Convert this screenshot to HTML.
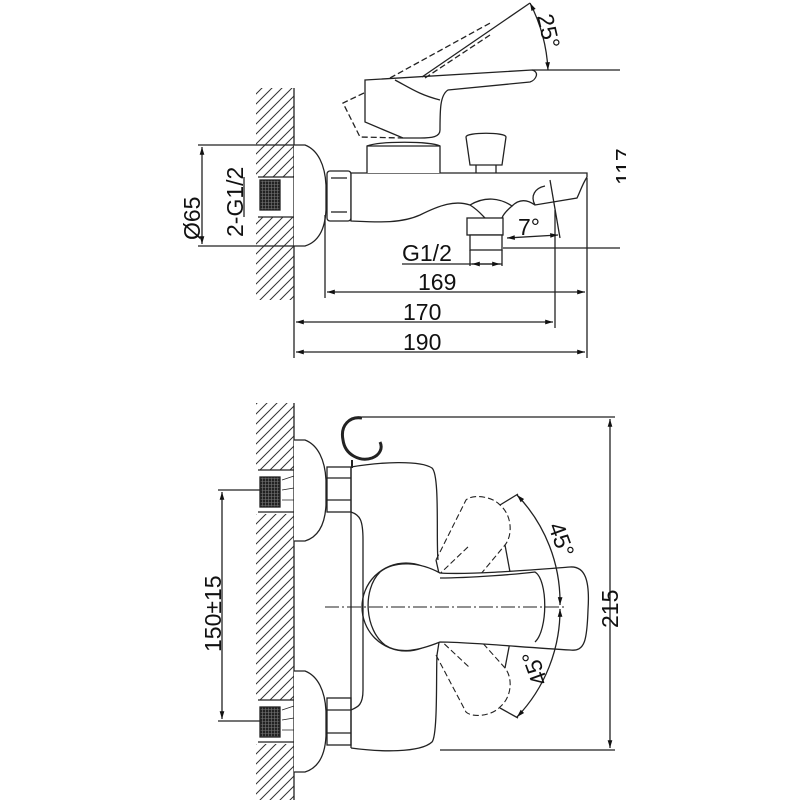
<!DOCTYPE html>
<html><head><meta charset="utf-8"><style>
html,body{margin:0;padding:0;background:#fff;}
svg{display:block}
text{font-family:"Liberation Sans",sans-serif;font-size:23px;fill:#111}
</style></head><body>
<svg width="800" height="800" viewBox="0 0 800 800" xmlns="http://www.w3.org/2000/svg">
<defs>
<pattern id="h" width="10" height="10" patternUnits="userSpaceOnUse">
<path d="M0 10 L10 0 M-2 2 L2 -2 M8 12 L12 8" stroke="#333" stroke-width="1"/>
</pattern>
<pattern id="k" width="3" height="3" patternUnits="userSpaceOnUse">
<rect width="3" height="3" fill="#222"/><path d="M0 1.5H3M1.5 0V3" stroke="#777" stroke-width="0.6"/>
</pattern>
<marker id="a" viewBox="0 0 10 10" refX="10" refY="5" markerWidth="8" markerHeight="6" orient="auto-start-reverse"><path d="M0 2 L10 5 L0 8z" fill="#111"/></marker>
<clipPath id="c"><rect x="0" y="0" width="626" height="800"/></clipPath>
</defs>
<g fill="none" stroke="#222" stroke-width="1.3">
<rect x="256" y="88" width="38" height="212" fill="url(#h)" stroke="none"/>
<rect x="256" y="177" width="38" height="40" fill="#fff" stroke="none"/>
<line x1="294" y1="88" x2="294" y2="300"/>
<line x1="258" y1="177" x2="294" y2="177"/><line x1="258" y1="217" x2="294" y2="217"/>
<rect x="260" y="180" width="20" height="30" fill="url(#k)" stroke="#222"/>
<path d="M294 145 H305 C318 150 325 165 326 185 V210 C325 230 318 242 305 246 H294" fill="#fff"/>
<rect x="327" y="171" width="24" height="50" rx="3" fill="#fff"/>
<line x1="331" y1="178" x2="347" y2="178"/><line x1="331" y1="212" x2="347" y2="212"/>
<path d="M351 173 H587 V177 C582 185 580 192 577 198 L535 205 C528 200 520 198 512 206 C500 198 485 196 470 205 C455 200 440 205 420 215 C400 224 375 222 351 221 Z" fill="#fff"/>
<path d="M470 205 C478 210 482 215 485 218 M512 206 C505 212 503 215 502 218"/>
<path d="M545 186 C535 188 530 196 535 205"/>
<rect x="467" y="218" width="36" height="17" fill="#fff"/>
<rect x="470" y="235" width="32" height="15" fill="#fff"/>
<line x1="470" y1="250" x2="470" y2="266"/><line x1="502" y1="250" x2="502" y2="266"/>
<path d="M367 173 V146 C380 141 430 141 440 146 V173" fill="#fff"/>
<line x1="367" y1="146" x2="440" y2="146"/>
<path d="M365 80 L532 70 C540 72 536 80 530 82 L448 90 C440 95 440 110 440 130 C440 137 432 138 420 138 L403 138 L365 122 Z" fill="#fff"/>
<path d="M395 80 C410 88 420 95 440 100"/>
<path d="M422 77 L530 3"/>
<path d="M390 78 L492 22" stroke-dasharray="6 3"/>
<path d="M425 78 L490 35" stroke-dasharray="6 3"/>
<path d="M364 93 L343 103 L360 137 L403 138" stroke-dasharray="6 3"/>
<path d="M466 137 C466 132 506 132 506 137 L502 165 H470 Z" fill="#fff"/>
<line x1="476" y1="165" x2="476" y2="173"/><line x1="496" y1="165" x2="496" y2="173"/>
<path d="M530 3 A165 165 0 0 1 548 70" marker-start="url(#a)" marker-end="url(#a)"/>
<line x1="532" y1="70" x2="620" y2="70"/>
<line x1="503" y1="248" x2="620" y2="248"/>
<line x1="198" y1="145" x2="294" y2="145"/><line x1="198" y1="246" x2="294" y2="246"/>
<line x1="202" y1="147" x2="202" y2="244" marker-start="url(#a)" marker-end="url(#a)"/>
<line x1="244" y1="177" x2="244" y2="217"/>
<line x1="325" y1="215" x2="325" y2="298"/>
<line x1="587" y1="178" x2="587" y2="358"/>
<line x1="555" y1="210" x2="555" y2="328"/>
<line x1="294" y1="300" x2="294" y2="358"/>
<line x1="550" y1="180" x2="560" y2="238"/>
<line x1="327" y1="292" x2="585" y2="292" marker-start="url(#a)" marker-end="url(#a)"/>
<line x1="296" y1="322" x2="553" y2="322" marker-start="url(#a)" marker-end="url(#a)"/>
<line x1="296" y1="352" x2="585" y2="352" marker-start="url(#a)" marker-end="url(#a)"/>
<line x1="402" y1="264" x2="502" y2="264"/>
<line x1="472" y1="264" x2="500" y2="264" marker-start="url(#a)" marker-end="url(#a)"/>
<line x1="507" y1="238" x2="558" y2="235" marker-start="url(#a)" marker-end="url(#a)"/>

<rect x="256" y="403" width="38" height="397" fill="url(#h)" stroke="none"/>
<rect x="256" y="470" width="38" height="44" fill="#fff" stroke="none"/>
<rect x="256" y="700" width="38" height="44" fill="#fff" stroke="none"/>
<line x1="294" y1="403" x2="294" y2="800"/>
<line x1="258" y1="470" x2="294" y2="470"/><line x1="258" y1="512" x2="294" y2="512"/>
<line x1="258" y1="700" x2="294" y2="700"/><line x1="258" y1="742" x2="294" y2="742"/>
<rect x="260" y="477" width="20" height="30" fill="url(#k)"/>
<rect x="260" y="707" width="20" height="30" fill="url(#k)"/>
<path d="M282 480 L294 476 M282 490 L294 488 M282 500 L294 500" stroke-width="0.8"/>
<path d="M282 710 L294 706 M282 720 L294 718 M282 730 L294 730" stroke-width="0.8"/>
<path d="M294 440 H305 C318 445 325 460 326 480 V505 C325 525 318 537 305 541 H294" fill="#fff"/>
<path d="M294 671 H305 C318 676 325 691 326 711 V736 C325 756 318 768 305 772 H294" fill="#fff"/>
<rect x="327" y="467" width="24" height="45" fill="#fff"/>
<rect x="327" y="698" width="24" height="47" fill="#fff"/>
<line x1="327" y1="478" x2="351" y2="478"/><line x1="327" y1="500" x2="351" y2="500"/>
<line x1="327" y1="710" x2="351" y2="710"/><line x1="327" y1="733" x2="351" y2="733"/>
<path d="M351 467 C380 462 420 460 432 468 C440 475 436 540 438 560 M351 512 C360 515 363 520 363 540 V690 C363 705 358 707 351 710 M351 748 C380 752 420 753 432 742 C438 735 436 670 437 655" fill="none"/>
<path d="M351 467 V748"/>
<path d="M362 418 C350 416 340 425 343 440 C345 455 360 462 372 458 C380 455 383 448 380 442" stroke-width="3"/>
<path d="M352 460 V468" stroke-width="2"/>
<g stroke-dasharray="6 3" stroke-width="1.1">
<path d="M436 560 L466 500 C472 494 492 496 500 505 C512 515 513 535 505 545 L480 575"/>
<path d="M436 655 L466 712 C472 718 492 716 500 707 C512 697 513 678 505 668 L480 640"/>
<path d="M405 607 L470 545 M405 607 L470 668"/>
</g>
<path d="M436 560 L440 578 M437 655 L440 636"/>
<path d="M505 545 L510 572 M505 668 L510 642"/>
<circle cx="406" cy="607" r="44" fill="none"/>
<path d="M440 573 C470 575 530 570 570 567 C585 566 590 580 588 610 C587 640 585 652 570 650 C530 648 470 642 440 642 C420 650 400 655 385 645 C365 630 362 590 380 572 C395 560 420 562 440 573 Z" fill="#fff"/>
<path d="M440 578 C470 578 520 574 535 572 C548 580 548 630 535 642"/>
<line x1="325" y1="607" x2="565" y2="607" stroke-dasharray="14 3 2 3" stroke-width="1"/>
<path d="M517 495 A155 155 0 0 1 560 605" marker-start="url(#a)" marker-end="url(#a)"/>
<path d="M560 609 A155 155 0 0 1 517 717" marker-start="url(#a)" marker-end="url(#a)"/>
<line x1="500" y1="505" x2="518" y2="494"/><line x1="500" y1="708" x2="518" y2="718"/>
<line x1="362" y1="417" x2="615" y2="417"/>
<line x1="440" y1="750" x2="615" y2="750"/>
<line x1="610" y1="419" x2="610" y2="748" marker-start="url(#a)" marker-end="url(#a)"/>
<line x1="218" y1="490" x2="262" y2="490"/><line x1="218" y1="721" x2="262" y2="721"/>
<line x1="222" y1="492" x2="222" y2="719" marker-start="url(#a)" marker-end="url(#a)"/>
</g>
<text x="418" y="290">169</text>
<text x="403" y="320">170</text>
<text x="403" y="350">190</text>
<text x="402" y="261">G1/2</text>
<text x="518" y="235">7°</text>
<text transform="translate(200,240) rotate(-90)">Ø65</text>
<text transform="translate(243,237) rotate(-90)">2-G1/2</text>
<text transform="translate(537,16) rotate(77)">25°</text>
<g clip-path="url(#c)"><text transform="translate(632,185) rotate(-90)">117</text></g>
<text transform="translate(221,652) rotate(-90)">150±15</text>
<text transform="translate(618,628) rotate(-90)">215</text>
<text transform="translate(548,526) rotate(70)">45°</text>
<text transform="translate(548,682) rotate(-110)">45°</text>
</svg>
</body></html>
